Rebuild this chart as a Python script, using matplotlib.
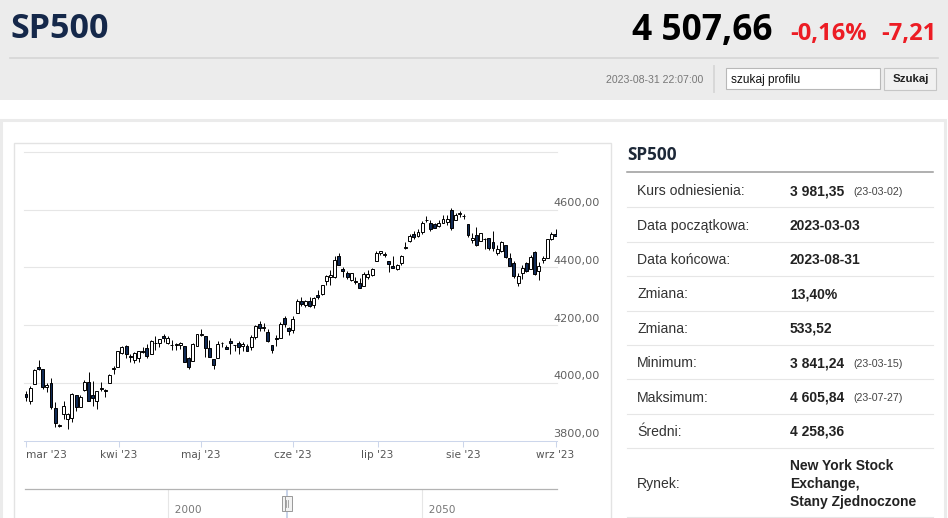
import numpy as np
import pandas as pd
import matplotlib
matplotlib.use("Agg")
import matplotlib.pyplot as plt
import matplotlib.transforms as mtransforms
from matplotlib.patches import Rectangle
from matplotlib.lines import Line2D

# ── data ──
holidays = ["2023-04-07", "2023-05-29", "2023-06-19", "2023-07-04"]
dates = pd.bdate_range("2023-03-01", "2023-08-31", freq="C", holidays=holidays)

opens = [
    3963.34, 3938.68, 3998.02, 4055.15, 4048.26, 3987.55, 3998.66, 3912.77, 3850.00, 3894.01,
    3876.74, 3878.93, 3958.69, 3917.47, 3975.89, 4002.04, 3959.21, 3939.21, 3982.93, 3974.13,
    3999.53, 4046.74, 4056.18,
    4102.20, 4128.03, 4094.50, 4081.15, 4085.20, 4110.29, 4121.72, 4100.04, 4140.11, 4137.17,
    4164.26, 4139.33, 4130.48, 4132.14, 4132.07, 4126.43, 4087.78, 4075.29, 4129.63,
    4166.79, 4164.10, 4122.25, 4082.61, 4084.73, 4136.98, 4124.25, 4143.74, 4132.24, 4138.54,
    4126.65, 4127.95, 4122.85, 4157.68, 4204.15, 4190.78, 4176.80, 4132.96, 4155.71, 4156.16,
    4226.71, 4190.74,
    4183.03, 4241.01, 4282.99, 4271.61, 4285.47, 4268.69, 4304.88, 4308.32, 4352.61, 4366.29,
    4365.33, 4440.95, 4396.11, 4380.01, 4355.40, 4354.17, 4344.84, 4337.36, 4367.48, 4374.94,
    4422.44,
    4450.48, 4442.04, 4422.62, 4404.54, 4394.23, 4415.55, 4467.69, 4491.50, 4514.61, 4508.86,
    4521.78, 4563.87, 4554.38, 4550.16, 4543.39, 4555.19, 4558.96, 4598.26, 4565.75, 4584.82,
    4578.83, 4550.93, 4494.27, 4513.96, 4491.58, 4498.03, 4501.57, 4487.16, 4450.69, 4458.13,
    4478.87, 4433.79, 4416.32, 4344.88, 4380.28, 4415.33, 4396.44, 4455.16, 4389.38, 4426.03,
    4432.75, 4500.34, 4517.01,
]
highs = [
    3971.73, 3990.84, 4048.29, 4078.49, 4050.00, 4000.41, 4017.81, 3934.05, 3858.00, 3937.29,
    3894.26, 3964.46, 3958.91, 3956.62, 4009.08, 4039.49, 4007.66, 3972.74, 4003.83, 3979.20,
    4030.59, 4057.85, 4110.75,
    4127.66, 4133.13, 4099.69, 4107.32, 4109.50, 4124.26, 4134.37, 4150.26, 4163.19, 4151.72,
    4169.48, 4162.57, 4148.57, 4138.02, 4142.41, 4126.43, 4089.67, 4138.24, 4170.06,
    4186.92, 4164.10, 4148.30, 4082.61, 4147.02, 4142.30, 4130.35, 4154.28, 4132.80, 4143.74,
    4141.25, 4135.54, 4164.67, 4202.20, 4212.91, 4209.22, 4185.68, 4132.96, 4165.74, 4212.87,
    4231.10, 4195.44,
    4232.43, 4290.67, 4299.28, 4288.33, 4299.19, 4298.01, 4322.62, 4340.13, 4375.37, 4391.82,
    4439.20, 4448.47, 4400.15, 4386.22, 4382.25, 4366.55, 4362.06, 4384.42, 4390.35, 4398.39,
    4458.48,
    4456.46, 4454.06, 4422.62, 4440.39, 4412.60, 4443.64, 4488.34, 4517.38, 4527.76, 4532.85,
    4562.30, 4578.43, 4564.74, 4555.00, 4563.41, 4580.62, 4582.47, 4605.84, 4590.16, 4594.22,
    4584.62, 4550.93, 4519.49, 4540.34, 4519.84, 4503.31, 4502.44, 4527.37, 4476.23, 4490.33,
    4478.87, 4449.95, 4421.17, 4381.82, 4407.55, 4418.59, 4443.18, 4458.30, 4418.46, 4439.56,
    4500.14, 4521.65, 4532.26,
]
lows = [
    3939.05, 3928.16, 3995.17, 4044.61, 3980.31, 3969.76, 3908.70, 3846.32, 3848.00, 3873.63,
    3841.24, 3864.11, 3901.27, 3916.89, 3971.19, 3936.17, 3919.05, 3909.16, 3970.49, 3951.53,
    3999.53, 4032.10, 4056.18,
    4098.79, 4086.87, 4072.56, 4069.84, 4072.55, 4102.61, 4086.94, 4099.40, 4113.20, 4123.18,
    4140.36, 4134.49, 4114.57, 4113.86, 4117.77, 4071.38, 4049.35, 4075.29, 4127.18,
    4164.12, 4089.72, 4088.86, 4048.28, 4084.73, 4123.81, 4116.06, 4098.92, 4109.29, 4099.12,
    4110.27, 4109.86, 4113.62, 4153.50, 4180.20, 4179.68, 4142.54, 4103.98, 4129.73, 4156.16,
    4192.18, 4166.15,
    4171.64, 4241.01, 4266.82, 4263.09, 4263.96, 4261.07, 4291.70, 4304.37, 4337.66, 4337.85,
    4362.60, 4407.44, 4367.19, 4360.14, 4351.82, 4341.34, 4328.08, 4335.00, 4360.22, 4371.97,
    4422.44,
    4442.29, 4436.61, 4385.05, 4397.40, 4389.92, 4408.46, 4463.23, 4489.36, 4499.56, 4504.90,
    4514.59, 4557.48, 4527.56, 4535.79, 4541.29, 4552.42, 4547.58, 4528.56, 4564.01, 4573.14,
    4567.53, 4505.75, 4485.54, 4474.55, 4491.15, 4464.39, 4461.33, 4457.92, 4443.98, 4453.44,
    4432.19, 4403.55, 4364.83, 4335.31, 4360.30, 4382.77, 4396.44, 4375.55, 4356.29, 4414.98,
    4431.68, 4493.59, 4507.39,
]
closes = [
    3951.39, 3981.35, 4045.64, 4048.42, 3986.37, 3992.01, 3918.32, 3861.59, 3855.76, 3919.29,
    3891.93, 3960.28, 3916.64, 3951.57, 4002.87, 3936.97, 3948.72, 3970.99, 3977.53, 3971.27,
    4027.81, 4050.83, 4109.31,
    4124.51, 4100.60, 4090.38, 4105.02, 4109.11, 4108.94, 4091.95, 4146.22, 4137.64, 4151.32,
    4154.87, 4154.52, 4129.79, 4133.52, 4137.04, 4071.63, 4055.99, 4135.35, 4169.48,
    4167.87, 4119.58, 4090.75, 4061.22, 4136.25, 4138.12, 4119.17, 4137.64, 4130.62, 4124.08,
    4136.28, 4109.90, 4158.77, 4198.05, 4191.98, 4192.63, 4145.58, 4115.24, 4151.28, 4205.45,
    4205.52, 4179.83,
    4221.02, 4282.37, 4273.79, 4283.85, 4267.52, 4293.93, 4298.86, 4338.93, 4369.01, 4372.59,
    4425.84, 4409.59, 4388.71, 4365.69, 4381.89, 4348.33, 4328.82, 4378.41, 4376.86, 4396.44,
    4450.38,
    4455.59, 4446.82, 4411.59, 4398.95, 4409.53, 4439.26, 4472.16, 4510.04, 4505.42, 4522.79,
    4554.98, 4565.72, 4534.87, 4536.34, 4554.64, 4567.46, 4566.75, 4537.41, 4582.23, 4588.96,
    4576.73, 4513.39, 4501.89, 4478.03, 4518.44, 4499.38, 4467.71, 4468.83, 4464.05, 4489.72,
    4437.86, 4404.33, 4370.36, 4369.71, 4399.77, 4387.55, 4436.01, 4376.31, 4405.71, 4433.31,
    4497.63, 4514.87, 4507.66,
]

month_starts = pd.date_range("2023-03-01", "2023-09-01", freq="MS")
month_labels = ["mar '23", "kwi '23", "maj '23", "cze '23", "lip '23", "sie '23", "wrz '23"]
y_ticks = [3800, 4000, 4200, 4400, 4600]
grid_levels = [4000, 4200, 4400, 4600, 4800]
nav_ticks = [2000, 2050]
nav_range = [2023.17, 2023.67]

symbol = "SP500"
last_price = "4 507,66"
change_pct = "-0,16%"
change_abs = "-7,21"
timestamp = "2023-08-31 22:07:00"

table_labels = ["Kurs odniesienia:", "Data początkowa:", "Data końcowa:", "Zmiana:",
                "Zmiana:", "Minimum:", "Maksimum:", "Średni:", "Rynek:"]
table_values = ["3 981,35", "2023-03-03", "2023-08-31", "13,40%", "533,52",
                "3 841,24", "4 605,84", "4 258,36",
                "New York Stock\nExchange,\nStany Zjednoczone"]
table_notes = ["(23-03-02)", "", "", "", "", "(23-03-15)", "(23-07-27)", "", ""]

# ── helpers (pixel coords, origin top-left) ──
W, H = 948, 518
fig = plt.figure(figsize=(W / 100, H / 100), dpi=100)
fig.patch.set_facecolor("white")


def fx(x):
    return x / W


def fy(y):
    return 1 - y / H


def box(x0, y0, x1, y1):
    return [fx(x0), fy(y1), (x1 - x0) / W, (y1 - y0) / H]


def frect(x0, y0, x1, y1, **kw):
    fig.patches.append(Rectangle((fx(x0), fy(y1)), (x1 - x0) / W, (y1 - y0) / H,
                                 transform=fig.transFigure, **kw))


def fline(x0, y0, x1, y1, **kw):
    fig.add_artist(Line2D([fx(x0), fx(x1)], [fy(y0), fy(y1)],
                          transform=fig.transFigure, **kw))


SANS = ["Liberation Sans", "DejaVu Sans"]
HEAD = ["Open Sans", "DejaVu Sans"]

# ── header ──
frect(0, 0, W, 100, facecolor="#ececec", edgecolor="none", zorder=0)
fline(10, 57.5, 938, 57.5, color="#d6d6d6", lw=1.2)
fig.text(fx(10), fy(29), symbol, fontsize=24.5, fontweight="bold", family=HEAD,
         color="#15284a", ha="left", va="center")
fig.text(fx(773), fy(31), last_price, fontsize=25.5, fontweight="bold", family=HEAD,
         color="black", ha="right", va="center")
fig.text(fx(867), fy(34), change_pct, fontsize=17, fontweight="bold", family=HEAD,
         color="#ec1c24", ha="right", va="center")
fig.text(fx(936), fy(34), change_abs, fontsize=17, fontweight="bold", family=HEAD,
         color="#ec1c24", ha="right", va="center")
fig.text(fx(703), fy(80), timestamp, fontsize=7.6, family=SANS, color="#777777",
         ha="right", va="center")
fline(714, 66, 714, 92, color="#d8d8d8", lw=1.4)
frect(726, 68, 880, 89, facecolor="white", edgecolor="#b8b8b8", lw=0.8)
fig.text(fx(731), fy(80), "szukaj profilu", fontsize=8.6, family=SANS, color="#111111",
         ha="left", va="center")
frect(884, 68, 936, 90, facecolor="#f1f1f1", edgecolor="#c6c6c6", lw=0.8)
fig.text(fx(910.5), fy(79.5), "Szukaj", fontsize=8.2, fontweight="bold", family=SANS,
         color="#222222", ha="center", va="center")

# ── container and chart frame ──
frect(1.3, 120, 944.7, 600, facecolor="none", edgecolor="#ebebeb", lw=2.2)
frect(14, 143, 611, 600, facecolor="none", edgecolor="#e3e3e3", lw=1.0)

# ── candlestick chart ──
n = len(dates)
xs = np.arange(n)
o, h, l, c = (np.array(a) for a in (opens, highs, lows, closes))
up = c >= o

t_ns = dates.values.astype("int64")
month_pos = [float(np.clip(np.interp((m - pd.Timedelta(hours=2)).value, t_ns, xs), 0, n - 1))
             for m in month_starts]

ax = fig.add_axes(box(24.3, 152, 557, 440.7))
ax.set_facecolor("none")
ax.set_xlim(-0.41, n - 1 + 0.34)
ax.set_ylim(3800, 4800)
for s in ["top", "left", "right"]:
    ax.spines[s].set_visible(False)
ax.spines["bottom"].set_color("#ccd6eb")
ax.spines["bottom"].set_linewidth(0.75)
for v in grid_levels:
    ax.axhline(v, color="#e6e6e6", lw=0.8, zorder=0, clip_on=False)

ax.vlines(xs, l, h, color="black", lw=0.7, zorder=2)
ax.bar(xs, np.maximum(np.abs(c - o), 0.8), bottom=np.minimum(o, c), width=0.7,
       color=np.where(up, "white", "#102a55"), edgecolor="black", lw=0.7, zorder=3)

ax.set_yticks([])
ax.set_xticks(month_pos)
ax.set_xticklabels(month_labels)
ax.tick_params(axis="x", length=4.5, width=0.75, color="#ccd6eb", labelsize=7.6,
               labelcolor="#555555", pad=2.5)
ax.get_xticklabels()[0].set_ha("left")

ylab_tr = mtransforms.offset_copy(ax.get_yaxis_transform(), fig=fig, x=0, y=1.5, units="dots")
for v in y_ticks:
    ax.text(0.9925, v, f"{v},00", transform=ylab_tr, fontsize=8.1, color="#606060",
            ha="left", va="bottom")

# ── navigator ──
nav = fig.add_axes(box(24.5, 489.3, 557, 518))
nav.set_facecolor("none")
nav.set_xlim(1971.63, 2076.70)
nav.set_ylim(0, 1)
nav.set_xticks([])
nav.set_yticks([])
for s in ["bottom", "left", "right"]:
    nav.spines[s].set_visible(False)
nav.spines["top"].set_color("#b3b3b3")
nav.spines["top"].set_linewidth(0.9)
for t in nav_ticks:
    nav.axvline(t, color="#e6e6e6", lw=0.8, zorder=0)
    nav.text(t, 0.28, f"  {t}", fontsize=7.6, color="#777777", ha="left", va="center")
nav.axvspan(nav_range[0], nav_range[1], color=(102 / 255, 133 / 255, 194 / 255, 0.35),
            lw=0, zorder=1)
hw = 7 / 5.068
trans = mtransforms.blended_transform_factory(nav.transData, nav.transAxes)
for p in nav_range:
    nav.add_patch(Rectangle((p - hw / 2, 0.25), hw, 0.52, transform=trans,
                            facecolor="#f2f2f2", edgecolor="#999999", lw=0.7, zorder=3))
    nav.plot([p, p], [0.38, 0.64], transform=trans, color="#999999", lw=0.6, zorder=4)

# ── side table ──
fig.text(fx(627), fy(155), symbol, fontsize=12.3, fontweight="bold", family=HEAD,
         color="#1d2838", ha="left", va="center")
fline(627, 171.8, 933, 171.8, color="#9a9a9a", lw=1.1)
row_top = 173.0
row_h = 34.4
for i, (lab, val, note) in enumerate(zip(table_labels, table_values, table_notes)):
    rh = row_h * (2 if "\n" in val else 1)
    yc = row_top + rh / 2
    fig.text(fx(637), fy(yc + 1), lab, fontsize=10.1, family=SANS, color="#333333",
             ha="left", va="center")
    lines = val.split("\n")
    for k, ln in enumerate(lines):
        yy = yc + (k - (len(lines) - 1) / 2) * 18
        fig.text(fx(790), fy(yy + 1), ln, fontsize=10, fontweight="bold", family=SANS,
                 color="#222222", ha="left", va="center")
    if note:
        fig.text(fx(853), fy(yc + 1.5), note, fontsize=7.7, family=SANS, color="#444444",
                 ha="left", va="center")
    row_top += rh
    fline(627, row_top, 933, row_top, color="#e6e6e6", lw=0.8)

fig.savefig("out.png", dpi=100)
plt.close()
